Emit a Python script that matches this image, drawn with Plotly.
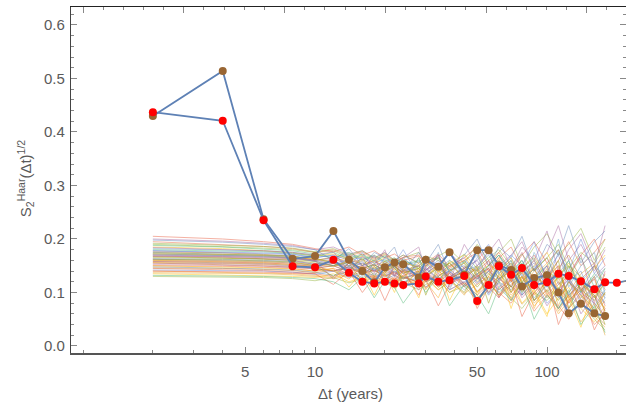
import math
import plotly.graph_objects as go

# ---- data ----
dt_grid = [2, 4, 6, 8, 10, 12, 14, 16, 18, 20, 22, 24, 28, 30, 34, 38, 44, 50, 56,
           62, 70, 78, 88, 100, 112, 124, 140, 160, 178]
dt_red = dt_grid + [200, 220]

s_brown = [0.430, 0.514, 0.237, 0.163, 0.168, 0.215, 0.161, 0.140, 0.119, 0.147,
           0.156, 0.153, 0.128, 0.161, 0.148, 0.175, 0.133, 0.179, 0.179, 0.151,
           0.142, 0.111, 0.127, 0.132, 0.100, 0.061, 0.079, 0.061, 0.056]
s_red = [0.437, 0.421, 0.235, 0.149, 0.147, 0.161, 0.137, 0.120, 0.117, 0.120,
         0.117, 0.114, 0.117, 0.130, 0.120, 0.123, 0.131, 0.084, 0.114, 0.149,
         0.133, 0.146, 0.114, 0.119, 0.135, 0.131, 0.121, 0.106, 0.119, 0.118, 0.122]

# ensemble of simulated curves, values in thousandths
ensemble_rows = """
175 172 170 168 160 165 150 158 140 152 148 135 150 142 160 130 145 170 120 150 135 160 110 140 170 120 100 150 130
160 158 156 152 150 140 148 135 142 130 138 128 120 135 110 125 140 100 130 115 90 120 80 105 130 70 95 60 85
190 186 183 180 175 178 165 172 160 170 155 165 175 150 168 180 155 190 160 175 200 150 185 210 170 190 220 160 200
145 143 141 138 135 130 140 125 132 120 128 118 125 110 130 105 120 95 115 100 80 110 65 95 75 50 85 40 60
170 168 167 165 158 162 170 150 160 145 155 165 140 155 135 150 165 130 145 170 125 140 155 110 135 160 100 125 145
155 152 150 147 145 150 138 145 130 140 132 125 138 120 130 145 115 135 100 125 140 105 120 90 115 130 85 110 95
182 180 178 175 170 165 172 160 168 155 162 150 158 165 145 160 140 150 170 135 155 120 145 165 115 140 105 130 90
135 133 131 130 128 135 120 128 115 125 118 130 112 125 105 120 135 100 118 95 125 80 105 60 90 110 70 45 75
200 196 192 188 180 185 172 178 165 175 160 170 155 168 150 175 145 160 185 150 170 195 140 175 225 160 190 140 180
165 164 162 160 155 150 158 145 152 140 148 138 145 130 148 125 140 110 135 120 145 100 130 115 85 120 95 70 100
150 149 147 145 140 145 135 142 128 138 125 132 140 120 135 115 130 145 110 130 100 125 145 95 120 80 105 125 75
178 175 173 171 165 170 160 166 155 162 148 158 150 162 140 155 130 150 125 145 165 130 150 110 135 95 120 150 110
140 138 137 135 132 128 135 122 130 118 126 115 122 108 125 100 118 90 112 130 95 115 75 100 60 85 105 55 35
168 166 163 160 152 158 145 155 140 150 135 145 128 142 155 125 145 115 140 160 120 145 105 130 150 90 125 100 120
188 185 181 178 172 165 175 162 170 158 165 152 160 148 165 142 158 135 150 170 140 160 125 150 180 130 165 110 145
158 156 154 150 145 140 148 138 145 132 140 128 135 120 132 140 112 130 95 120 105 130 85 115 140 95 75 105 80
172 170 168 165 162 155 150 160 145 155 142 150 138 152 130 148 160 120 145 130 155 110 140 165 120 100 135 155 115
130 129 128 126 122 128 118 125 112 120 108 118 105 115 125 100 112 85 105 120 90 70 100 85 110 60 80 50 30
195 190 186 182 175 180 168 176 162 172 158 166 170 150 165 145 160 175 140 165 185 145 170 130 160 195 150 175 200
162 160 158 155 150 155 145 150 138 146 132 142 135 148 125 140 118 135 145 110 130 95 120 140 100 125 80 110 90
176 174 171 168 160 166 155 162 150 158 145 155 148 135 152 128 148 140 160 125 150 135 160 115 145 170 125 150 105
148 146 144 142 138 132 140 128 135 125 132 120 128 138 115 130 105 125 140 100 120 135 90 115 70 100 125 65 90
185 182 178 174 168 172 162 168 155 165 150 158 145 160 138 155 170 130 152 140 165 120 150 175 130 155 115 145 170
155 154 152 149 146 150 140 147 134 144 130 140 125 138 118 135 110 130 100 125 112 95 120 75 105 125 60 95 50
167 165 164 162 158 150 156 145 152 140 150 136 145 130 145 155 125 148 115 140 160 118 145 100 130 150 105 85 120
205 200 195 190 182 176 185 170 178 165 172 160 168 155 172 148 165 185 150 175 140 170 195 155 180 130 170 200 150
142 141 140 138 134 140 128 135 122 132 118 128 122 110 128 105 120 135 98 118 85 108 125 80 100 55 90 110 65
172 171 169 166 163 158 165 152 160 148 156 142 150 160 138 155 128 150 135 160 120 148 130 155 105 140 120 90 135
152 151 149 147 144 140 146 136 142 130 138 126 134 145 122 138 115 132 120 105 128 90 115 135 95 70 100 80 55
180 178 176 173 168 175 162 170 158 168 152 162 145 158 165 140 155 125 150 170 135 155 115 140 125 160 100 135 115
163 162 160 158 153 158 148 155 143 150 138 148 132 145 125 142 150 118 140 125 145 105 130 150 90 120 140 75 105
137 136 135 133 130 126 132 120 128 115 124 112 120 130 105 122 98 115 130 92 112 78 100 120 65 95 45 80 20
192 189 186 183 176 182 170 178 164 174 160 170 155 168 160 150 172 145 165 180 150 172 140 165 190 145 175 155 185
158 157 155 153 148 154 142 150 138 146 134 142 128 140 120 136 112 130 145 105 125 140 95 120 105 80 115 95 70
170 169 167 164 160 154 162 150 158 145 154 140 150 135 152 128 145 160 122 148 110 138 160 115 140 125 95 130 150
146 145 143 141 137 142 132 138 126 134 122 130 118 132 110 126 140 102 120 95 115 130 85 105 70 95 115 60 40
172 170 168 166 158 150 162 130 155 120 150 110 165 125 175 105 160 140 180 120 160 95 175 130 200 110 150 175 95
150 148 146 144 140 145 110 140 95 135 100 145 90 130 150 85 140 75 120 150 70 130 100 55 140 90 35 110 65
184 181 178 175 170 176 140 168 150 180 130 165 185 140 170 120 190 150 175 200 145 185 160 215 140 180 210 150 225
162 161 159 157 150 130 155 120 148 135 160 115 140 95 150 125 100 145 80 135 110 150 85 125 160 70 120 95 40
140 139 138 136 135 115 140 100 130 85 125 140 95 125 75 115 135 70 110 90 125 55 100 130 40 85 110 30 70
178 176 174 172 165 170 150 175 140 165 155 180 130 160 145 175 125 165 190 135 170 150 195 120 175 140 200 135 165
156 155 153 151 148 140 125 150 110 140 160 105 145 120 90 140 155 95 130 165 100 140 70 125 150 85 130 60 100
168 167 165 163 160 125 155 140 170 115 150 135 105 150 170 110 145 125 160 90 140 175 115 150 95 135 170 80 140
132 131 130 128 126 120 105 128 90 122 110 80 120 100 130 75 115 95 60 110 85 120 50 95 70 105 40 75 25
198 194 190 186 180 160 182 150 175 165 185 140 175 155 190 135 170 200 150 185 165 205 140 190 170 225 155 195 215
160 159 157 155 152 148 160 132 150 115 145 130 155 105 140 125 95 140 115 150 85 130 105 145 75 120 90 130 60
174 172 170 168 164 155 140 165 130 160 145 125 165 135 115 160 140 175 120 155 100 145 165 125 105 150 130 90 120
"""
ensemble = [[int(v) / 1000 for v in row.split()] for row in ensemble_rows.strip().splitlines()]

x_tickvals = [5, 10, 50, 100]
x_ticktext = ["5", "10", "50", "100"]
x_minor = [1, 2, 3, 4, 6, 7, 8, 9, 20, 30, 40, 60, 70, 80, 90, 200]
top_major = [math.exp(k) for k in range(0, 6)]
top_minor = [math.exp(k / 5) for k in range(0, 28) if k % 5 != 0]

palette = ["#5E81B5", "#E19C24", "#8FB032", "#EB6235", "#8778B3", "#C56E1A",
           "#5D9EC7", "#FFBF00", "#A5609D", "#929600", "#E95536", "#6685D9",
           "#F89F13", "#BC5B80", "#47B66D"]

fig = go.Figure()
for i, row in enumerate(ensemble):
    fig.add_trace(go.Scatter(x=dt_grid, y=row, mode="lines",
                             line=dict(color=palette[i % len(palette)], width=0.9),
                             opacity=0.5, hoverinfo="skip", showlegend=False))

fig.add_trace(go.Scatter(x=dt_grid, y=s_brown, mode="lines+markers",
                         line=dict(color="#5E81B5", width=1.8),
                         marker=dict(color="rgb(153,102,51)", size=8),
                         showlegend=False))
fig.add_trace(go.Scatter(x=dt_red, y=s_red, mode="lines+markers",
                         line=dict(color="#5E81B5", width=1.8),
                         marker=dict(color="#FF0000", size=8),
                         showlegend=False, cliponaxis=False))
# helper trace for top axis
fig.add_trace(go.Scatter(x=[10], y=[0.3], xaxis="x2", mode="markers",
                         marker=dict(opacity=0), hoverinfo="skip", showlegend=False))

xr = [-0.052, 2.3405]
yr = [-0.0131, 0.6336]
tickfont = dict(family="Liberation Sans, Arial, sans-serif", size=15, color="#5a5a5a")

fig.update_layout(
    width=626, height=407,
    margin=dict(l=71, r=0, t=7, b=54),
    paper_bgcolor="white", plot_bgcolor="white",
    xaxis=dict(type="log", range=xr, showgrid=False, zeroline=False,
               showline=True, linecolor="#555", linewidth=1.5, mirror=False,
               ticks="inside", ticklen=6, tickwidth=1, tickcolor="#888",
               tickvals=x_tickvals, ticktext=x_ticktext, tickfont=tickfont,
               ticklabelstandoff=4,
               minor=dict(tickvals=x_minor, ticks="inside", ticklen=3,
                          tickcolor="#888", showgrid=False)),
    xaxis2=dict(type="log", range=xr, overlaying="x", side="top",
                showgrid=False, zeroline=False, showline=True, linecolor="#222",
                linewidth=1.2, ticks="inside", ticklen=6, tickcolor="#888",
                tickvals=top_major, showticklabels=False,
                minor=dict(tickvals=top_minor, ticks="inside", ticklen=3,
                           tickcolor="#888", showgrid=False)),
    yaxis=dict(range=yr, showgrid=False, zeroline=False, showline=True,
               linecolor="#444", linewidth=1.2, mirror="ticks",
               ticks="inside", ticklen=6, tickcolor="#888",
               tickvals=[0, 0.1, 0.2, 0.3, 0.4, 0.5, 0.6],
               ticktext=["0.0", "0.1", "0.2", "0.3", "0.4", "0.5", "0.6"],
               tickfont=tickfont, ticklabelstandoff=2,
               minor=dict(dtick=0.02, tick0=0, ticks="inside", ticklen=3,
                          tickcolor="#888", showgrid=False)),
    annotations=[
        dict(text="Δt (years)", xref="paper", yref="paper", x=0.504, y=-0.118,
             xanchor="center", yanchor="middle", showarrow=False,
             font=dict(family="Liberation Sans, Arial, sans-serif", size=15, color="#5a5a5a")),
        dict(text="S<sub>2</sub><sup>Haar</sup>(Δt)<sup>1/2</sup>", xref="paper", yref="paper",
             x=-0.083, y=0.505, xanchor="center", yanchor="middle", textangle=-90,
             showarrow=False,
             font=dict(family="Liberation Sans, Arial, sans-serif", size=15, color="#5a5a5a")),
    ],
)

fig.write_html("out.html", config={"displayModeBar": False},
               post_script="document.body.style.margin='0';document.body.style.overflow='hidden';")
